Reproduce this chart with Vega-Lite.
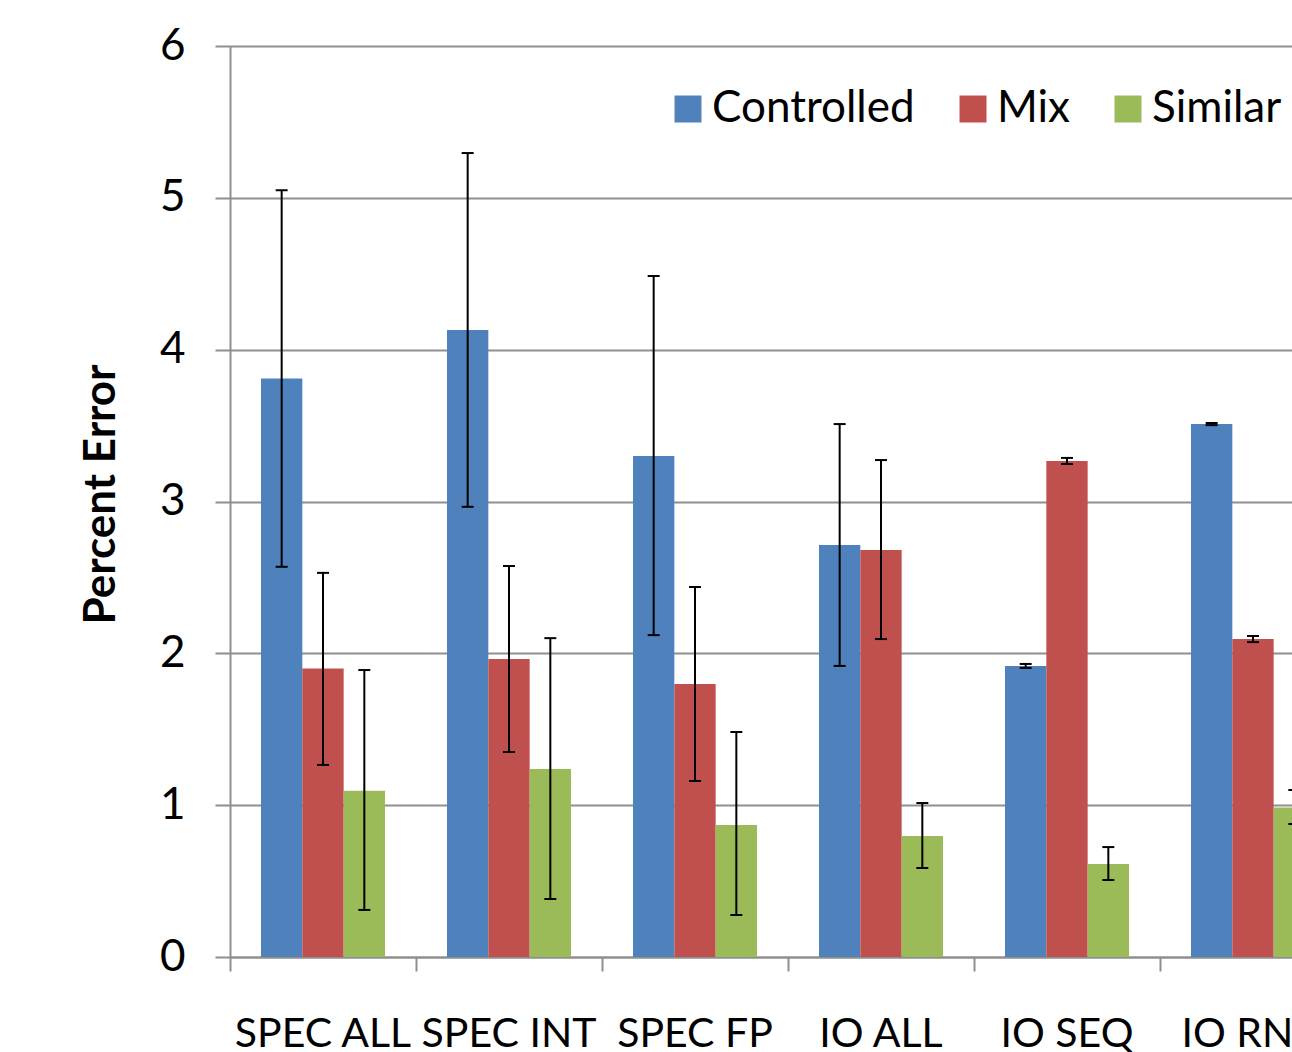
{
  "$schema": "https://vega.github.io/schema/vega-lite/v6.json",
  "autosize": {"type": "none"},
  "padding": {"left": 230, "top": 46, "right": 0, "bottom": 95},
  "width": 1062,
  "height": 911,
  "background": "white",
  "config": {
    "font": "Lato",
    "view": {"stroke": null},
    "axis": {"labelFont": "Lato", "titleFont": "Lato", "labelColor": "black", "titleColor": "black"}
  },
  "data": {
    "values": [
      {"bench": "SPEC ALL", "series": "Controlled", "value": 3.81, "lo": 2.57, "hi": 5.05},
      {"bench": "SPEC ALL", "series": "Mix", "value": 1.9, "lo": 1.265, "hi": 2.53},
      {"bench": "SPEC ALL", "series": "Similar", "value": 1.095, "lo": 0.31, "hi": 1.89},
      {"bench": "SPEC INT", "series": "Controlled", "value": 4.13, "lo": 2.965, "hi": 5.295},
      {"bench": "SPEC INT", "series": "Mix", "value": 1.963, "lo": 1.35, "hi": 2.575},
      {"bench": "SPEC INT", "series": "Similar", "value": 1.238, "lo": 0.382, "hi": 2.1},
      {"bench": "SPEC FP", "series": "Controlled", "value": 3.3, "lo": 2.12, "hi": 4.485},
      {"bench": "SPEC FP", "series": "Mix", "value": 1.798, "lo": 1.159, "hi": 2.437},
      {"bench": "SPEC FP", "series": "Similar", "value": 0.869, "lo": 0.277, "hi": 1.482},
      {"bench": "IO ALL", "series": "Controlled", "value": 2.714, "lo": 1.917, "hi": 3.51},
      {"bench": "IO ALL", "series": "Mix", "value": 2.68, "lo": 2.094, "hi": 3.273},
      {"bench": "IO ALL", "series": "Similar", "value": 0.797, "lo": 0.586, "hi": 1.014},
      {"bench": "IO SEQ", "series": "Controlled", "value": 1.917, "lo": 1.904, "hi": 1.93},
      {"bench": "IO SEQ", "series": "Mix", "value": 3.267, "lo": 3.247, "hi": 3.287},
      {"bench": "IO SEQ", "series": "Similar", "value": 0.612, "lo": 0.507, "hi": 0.724},
      {"bench": "IO RND", "series": "Controlled", "value": 3.51, "lo": 3.503, "hi": 3.517},
      {"bench": "IO RND", "series": "Mix", "value": 2.094, "lo": 2.074, "hi": 2.114},
      {"bench": "IO RND", "series": "Similar", "value": 0.984, "lo": 0.876, "hi": 1.1}
    ]
  },
  "encoding": {
    "x": {
      "field": "bench", "type": "nominal", "sort": null,
      "scale": {"range": [0, 1116], "paddingInner": 0, "paddingOuter": 0},
      "axis": {
        "title": null, "labelAngle": 0, "labelFontSize": 41, "labelPadding": 43, "labelLimit": 0,
        "tickSize": 14, "tickColor": "#8f8f8f", "tickWidth": 2, "bandPosition": 0,
        "domainColor": "#8f8f8f", "domainWidth": 2, "grid": false, "labelBound": false, "labelOverlap": false
      }
    },
    "xOffset": {
      "field": "series", "type": "nominal",
      "scale": {"paddingOuter": 0.75, "paddingInner": 0}
    }
  },
  "layer": [
    {
      "mark": {"type": "bar"},
      "encoding": {
        "y": {
          "field": "value", "type": "quantitative",
          "scale": {"domain": [0, 6], "nice": false},
          "axis": {
            "title": "Percent Error", "titleFontSize": 44, "titleFontWeight": "bold", "titlePadding": 36, "titleY": 448,
            "values": [0, 1, 2, 3, 4, 5, 6], "format": "d", "labelFontSize": 44, "labelPadding": 30,
            "tickSize": 15, "tickColor": "#8f8f8f", "tickWidth": 2,
            "domainColor": "#8f8f8f", "domainWidth": 2,
            "grid": true, "gridColor": "#8f8f8f", "gridWidth": 2
          }
        },
        "color": {
          "field": "series", "type": "nominal",
          "scale": {"domain": ["Controlled", "Mix", "Similar"], "range": ["#4F81BD", "#C0504D", "#9BBB59"]},
          "legend": {
            "title": null, "orient": "none", "direction": "horizontal",
            "legendX": 436, "legendY": 41, "padding": 0,
            "symbolType": "square", "symbolSize": 729, "symbolStrokeWidth": 0, "symbolOpacity": 1,
            "labelFontSize": 44, "labelColor": "black", "labelFont": "Lato", "labelOffset": 2, "columnPadding": 36, "labelLimit": 0
          }
        }
      }
    },
    {
      "mark": {"type": "rule", "color": "black", "strokeWidth": 2},
      "encoding": {
        "y": {"field": "lo", "type": "quantitative"},
        "y2": {"field": "hi"}
      }
    },
    {
      "mark": {"type": "tick", "color": "black", "thickness": 2, "size": 12, "opacity": 1},
      "encoding": {"y": {"field": "lo", "type": "quantitative"}}
    },
    {
      "mark": {"type": "tick", "color": "black", "thickness": 2, "size": 12, "opacity": 1},
      "encoding": {"y": {"field": "hi", "type": "quantitative"}}
    }
  ]
}
